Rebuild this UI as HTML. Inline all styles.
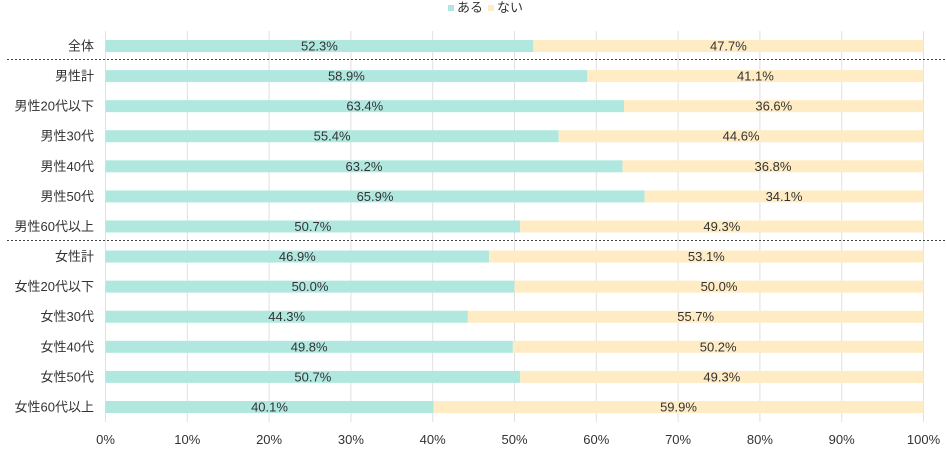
<!DOCTYPE html>
<html><head><meta charset="utf-8"><style>
body{margin:0;background:#fff;width:946px;height:450px;overflow:hidden}
text{font-family:"Liberation Sans","Noto Sans CJK JP",sans-serif;font-size:13px;fill:#333}
</style></head><body>
<svg width="946" height="450" xmlns="http://www.w3.org/2000/svg">
<g stroke="#e0e0e0" stroke-width="1">
<line x1="105.5" y1="31" x2="105.5" y2="422"/>
<line x1="187.3" y1="31" x2="187.3" y2="422"/>
<line x1="269.1" y1="31" x2="269.1" y2="422"/>
<line x1="350.9" y1="31" x2="350.9" y2="422"/>
<line x1="432.7" y1="31" x2="432.7" y2="422"/>
<line x1="514.5" y1="31" x2="514.5" y2="422"/>
<line x1="596.3" y1="31" x2="596.3" y2="422"/>
<line x1="678.1" y1="31" x2="678.1" y2="422"/>
<line x1="759.9" y1="31" x2="759.9" y2="422"/>
<line x1="841.7" y1="31" x2="841.7" y2="422"/>
<line x1="923.5" y1="31" x2="923.5" y2="422"/>
</g>
<rect x="448" y="5" width="6" height="6" fill="#b0e8e0"/><text x="457" y="12" font-size="12">ある</text>
<rect x="488" y="5" width="6" height="6" fill="#ffecc4"/><text x="497" y="12" font-size="12">ない</text>
<g id="bars"></g>
<line x1="7" y1="59.5" x2="945" y2="59.5" stroke="#444" stroke-dasharray="2,2"/>
<line x1="7" y1="240.5" x2="945" y2="240.5" stroke="#444" stroke-dasharray="2,2"/>
<g text-anchor="middle">
<text x="105.5" y="444">0%</text><text x="187.3" y="444">10%</text><text x="269.1" y="444">20%</text><text x="350.9" y="444">30%</text><text x="432.7" y="444">40%</text><text x="514.5" y="444">50%</text><text x="596.3" y="444">60%</text><text x="678.1" y="444">70%</text><text x="759.9" y="444">80%</text><text x="841.7" y="444">90%</text><text x="923.5" y="444">100%</text>
</g>
</svg>
<script>
var d=[["全体",52.3],["男性計",58.9],["男性20代以下",63.4],["男性30代",55.4],["男性40代",63.2],["男性50代",65.9],["男性60代以上",50.7],["女性計",46.9],["女性20代以下",50.0],["女性30代",44.3],["女性40代",49.8],["女性50代",50.7],["女性60代以上",40.1]];
var g=document.getElementById("bars"),h="",L=105.5,W=818;
d.forEach(function(r,i){var y=40+i*30.08,a=r[1],b=(100-a).toFixed(1),x=L+W*a/100;
h+='<rect x="'+L+'" y="'+y+'" width="'+(W*a/100)+'" height="12" fill="#b0e8e0"/>';
h+='<rect x="'+x+'" y="'+y+'" width="'+(L+W-x)+'" height="12" fill="#ffecc4"/>';
h+='<text x="'+(L+W*a/200)+'" y="'+(y+10.5)+'" text-anchor="middle">'+a.toFixed(1)+'%</text>';
h+='<text x="'+(x+(L+W-x)/2)+'" y="'+(y+10.5)+'" text-anchor="middle">'+b+'%</text>';
h+='<text x="94" y="'+(y+10.5)+'" text-anchor="end">'+r[0]+'</text>';});
g.innerHTML=h;
</script>
</body></html>
